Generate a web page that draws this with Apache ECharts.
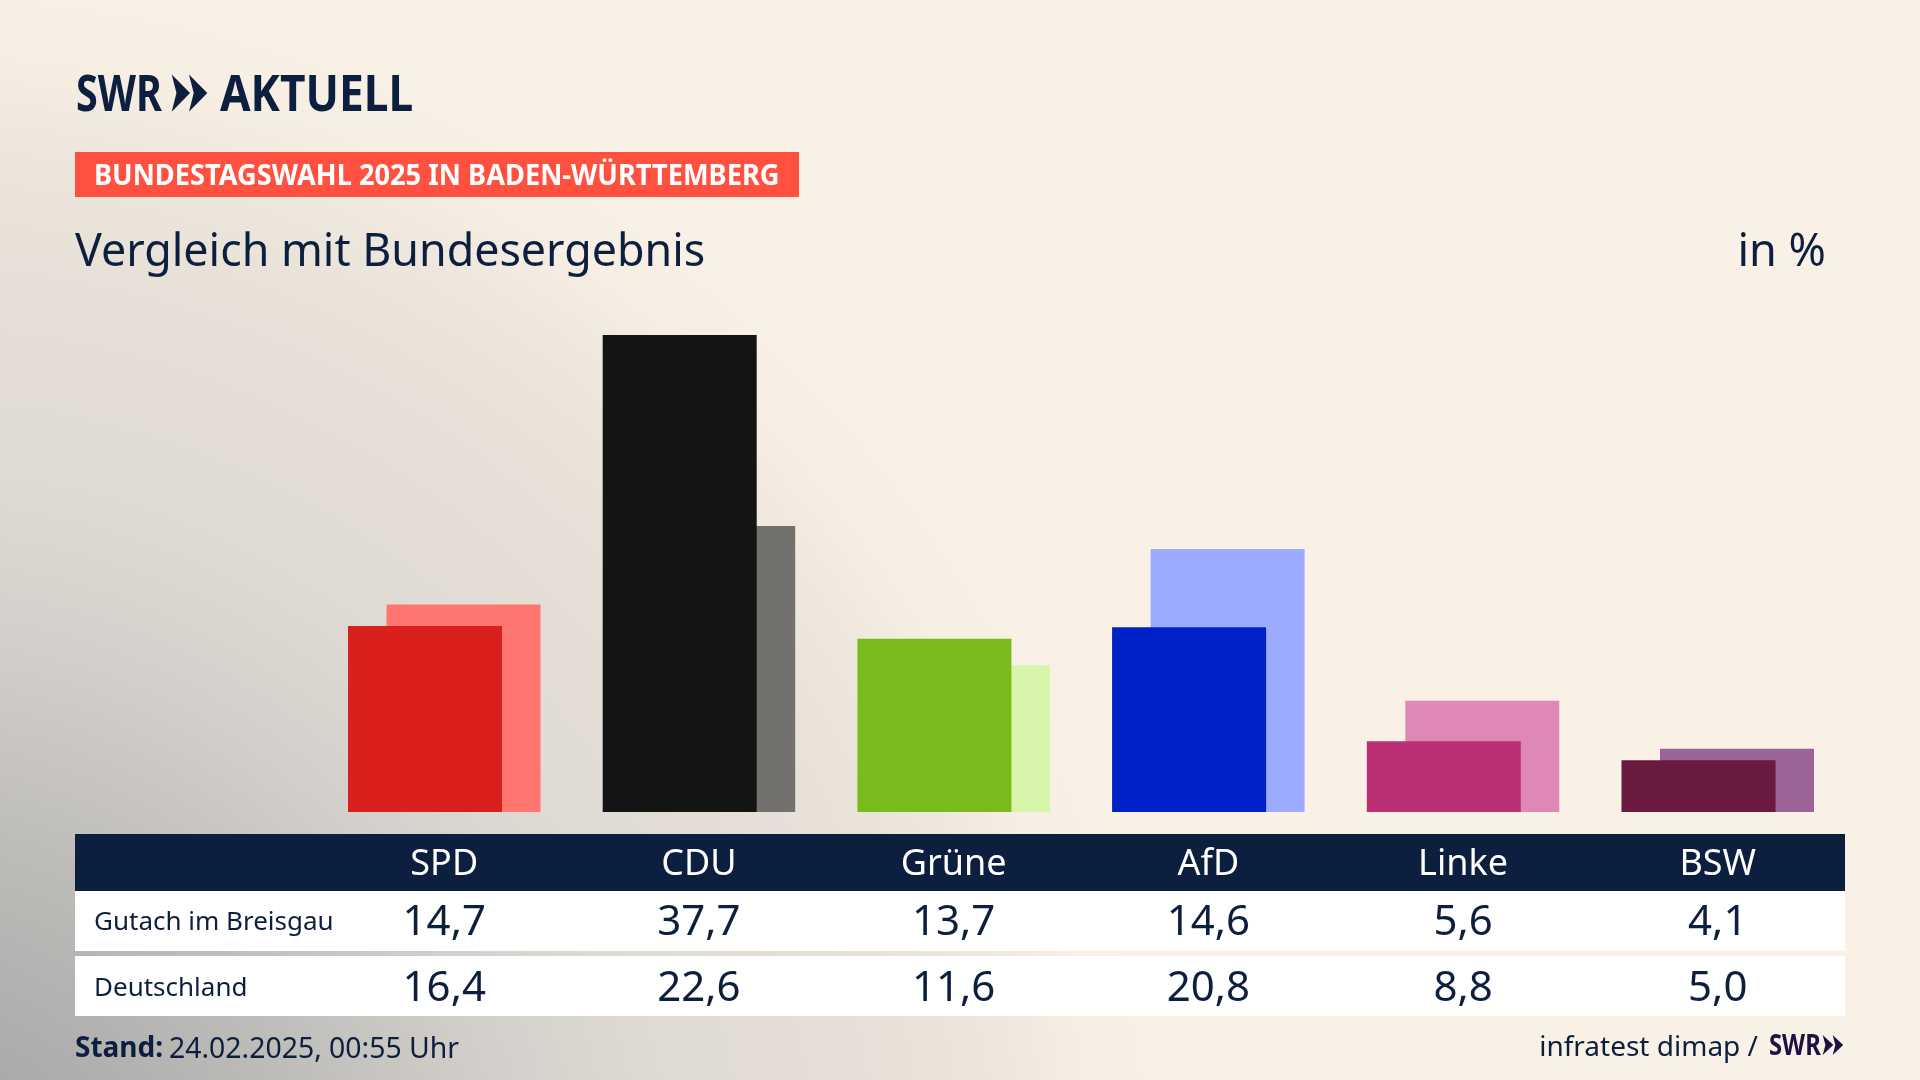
<!DOCTYPE html>
<html lang="de">
<head>
<meta charset="utf-8">
<title>Vergleich mit Bundesergebnis</title>
<script src="https://cdn.jsdelivr.net/npm/echarts@6/dist/echarts.min.js"></script>
<style>
  html, body { margin: 0; padding: 0; background: #faf1e6; }
  #chart { width: 1920px; height: 1080px; }
</style>
</head>
<body>
<div id="chart"></div>
<script>
const parties = ['SPD', 'CDU', 'Grüne', 'AfD', 'Linke', 'BSW'];
const gutach = [14.7, 37.7, 13.7, 14.6, 5.6, 4.1];
const deutschland = [16.4, 22.6, 11.6, 20.8, 8.8, 5.0];
const rowNames = ['Gutach im Breisgau', 'Deutschland'];
const colorsMain = ['#d9201c', '#141414', '#78bb1b', '#0020c8', '#bb2f75', '#6b1a40'];
const colorsLight = ['#ff7670', '#72716e', '#d6f5aa', '#9cabff', '#df88b5', '#9b6397'];

const NAVY = '#0c1f3f';
const FONT = '"Noto Sans", sans-serif';

const deNum = v => v.toFixed(1).replace('.', ',');

function txt(x, y, text, font, fill, align, scaleX){
  return {
    type: 'text', z: 10, x: x, y: y, scaleX: scaleX || 1,
    style: { x: 0, y: 0, text, font, fill: fill || NAVY, textAlign: align || 'left', textVerticalAlign: 'middle' }
  };
}
function box(x, y, width, height, fill){
  return { type: 'rect', z: 1, shape: { x, y, width, height }, style: { fill } };
}
// the two arrowheads of the SWR logo
function chevrons(x, y, w, h, fill){
  const step = w * 0.485, head = w * 0.515;
  return [0, 1].map(i => ({
    type: 'polygon', z: 10,
    shape: { points: [
      [x + i * step, y], [x + i * step + head, y + h / 2],
      [x + i * step, y + h], [x + i * step + head * 0.26, y + h / 2]
    ] },
    style: { fill }
  }));
}

function labelAxis(values, offset, fontSize, color){
  return {
    type: 'category', position: 'bottom', offset, data: values, z: 10,
    axisLine: { show: false }, axisTick: { show: false },
    axisLabel: { interval: 0, margin: 0, verticalAlign: 'middle', color, fontFamily: FONT, fontSize }
  };
}

const chart = echarts.init(document.getElementById('chart'), null, { renderer: 'canvas' });
chart.setOption({
  animation: false,
  grid: { left: 316.9, right: 74.9, top: 306, bottom: 268 },
  xAxis: [
    labelAxis(parties, 52.5, 36, '#ffffff'),
    labelAxis(gutach.map(deNum), 111.5, 42, NAVY),
    labelAxis(deutschland.map(deNum), 177.5, 42, NAVY)
  ],
  yAxis: { type: 'value', min: 0, max: 40, show: false },
  series: [
    {
      type: 'bar', xAxisIndex: 0, z: 3, barWidth: 154, barGap: '-75%',
      data: gutach.map((v, i) => ({ value: v, itemStyle: { color: colorsMain[i] } }))
    },
    {
      type: 'bar', xAxisIndex: 0, z: 2, barWidth: 154,
      data: deutschland.map((v, i) => ({ value: v, itemStyle: { color: colorsLight[i] } }))
    }
  ],
  graphic: { elements: [
    // backdrop: grey glow from off the lower left corner
    {
      type: 'rect', z: -10, shape: { x: 0, y: 0, width: 1920, height: 1080 },
      style: { fill: new echarts.graphic.RadialGradient(-100, 1250, 1300, [
        { offset: 0, color: '#a2a2a2' },
        { offset: 0.14, color: '#a9a9a8' },
        { offset: 0.33, color: '#bfbdba' },
        { offset: 0.47, color: '#d2cfca' },
        { offset: 0.6, color: '#dfdad4' },
        { offset: 0.74, color: '#e5dfd7' },
        { offset: 0.81, color: '#e9e3da' },
        { offset: 0.86, color: '#eee7dd' },
        { offset: 0.93, color: '#f8efe4' },
        { offset: 1, color: '#faf1e6' }
      ], true) }
    },
    box(75, 834, 1770, 57, NAVY),
    box(75, 891, 1770, 60, '#ffffff'),
    box(75, 956, 1770, 60, '#ffffff'),
    box(75, 152, 724, 45, '#ff5040'),
    txt(76, 96.5, 'SWR', 'bold 50px ' + FONT, NAVY, 'left', 0.79),
    ...chevrons(171.7, 74.5, 35.6, 37.2, NAVY),
    txt(220, 96.5, 'AKTUELL', 'bold 50px ' + FONT, NAVY, 'left', 0.885),
    txt(94, 177.5, 'BUNDESTAGSWAHL 2025 IN BADEN-WÜRTTEMBERG', 'bold 28px ' + FONT, '#ffffff', 'left', 0.972),
    txt(75, 253, 'Vergleich mit Bundesergebnis', '45px ' + FONT, NAVY, 'left', 0.995),
    txt(1826, 253, 'in %', '45px ' + FONT, NAVY, 'right'),
    txt(94, 923, rowNames[0], '26px ' + FONT),
    txt(94, 988.5, rowNames[1], '26px ' + FONT),
    txt(75, 1049.5, 'Stand:', 'bold 28px ' + FONT),
    txt(169, 1049.5, '24.02.2025, 00:55 Uhr', '28.4px ' + FONT),
    txt(1758, 1048.5, 'infratest dimap /', '28px ' + FONT, NAVY, 'right'),
    txt(1769, 1047.5, 'SWR', 'bold 28px ' + FONT, '#1f0f45', 'left', 0.85),
    ...chevrons(1822.7, 1035, 20.5, 20, '#1f0f45')
  ] }
});
</script>
</body>
</html>
